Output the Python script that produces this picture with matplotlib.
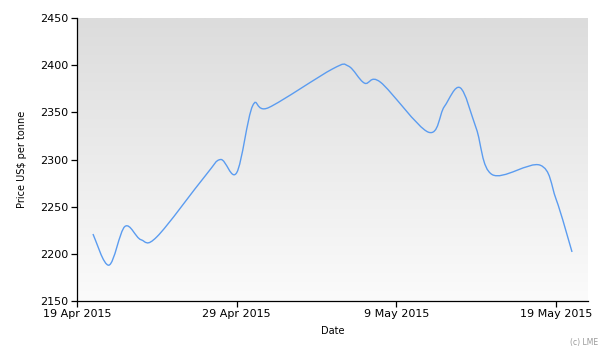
import numpy as np
import pandas as pd
import matplotlib
matplotlib.use('Agg')
import matplotlib.pyplot as plt
import matplotlib.dates as mdates
from matplotlib.path import Path
from matplotlib.patches import PathPatch
from matplotlib.colors import LinearSegmentedColormap

# LME daily prices (US$ per tonne), trading days only
dates = ['2015-04-20', '2015-04-21', '2015-04-22', '2015-04-23', '2015-04-24',
         '2015-04-27', '2015-04-28', '2015-04-29', '2015-04-30', '2015-05-01',
         '2015-05-05', '2015-05-06', '2015-05-07', '2015-05-08', '2015-05-11',
         '2015-05-12', '2015-05-13', '2015-05-14', '2015-05-15', '2015-05-18',
         '2015-05-19', '2015-05-20']
prices = [2221, 2188, 2229, 2215, 2218,
          2282, 2300, 2286, 2357, 2355,
          2396, 2399, 2381, 2382, 2329,
          2356, 2376, 2333, 2284, 2294,
          2258, 2202]
tick_dates = ['2015-04-19', '2015-04-29', '2015-05-09', '2015-05-19']
x_range = ['2015-04-19', '2015-05-21']
y_ticks = [2150, 2200, 2250, 2300, 2350, 2400, 2450]

TENSION = 0.5


def spline_path(x, y, tension):
    """Cardinal spline through the points as cubic Bezier segments"""
    pts = np.column_stack([x, y])
    n = len(pts)
    verts = [pts[0]]
    codes = [Path.MOVETO]
    for i in range(n - 1):
        p_prev = pts[i - 1] if i > 0 else pts[i]
        p_next2 = pts[i + 2] if i + 2 < n else pts[i + 1]
        c1 = pts[i] + tension / 3 * (pts[i + 1] - p_prev)
        c2 = pts[i + 1] - tension / 3 * (p_next2 - pts[i])
        verts += [c1, c2, pts[i + 1]]
        codes += [Path.CURVE4] * 3
    return Path(verts, codes)


x = mdates.date2num(pd.to_datetime(dates))
y = np.array(prices, dtype=float)

fig = plt.figure(figsize=(6.12, 3.54), dpi=100)
ax = fig.add_axes([77 / 612, 1 - 301 / 354, (588 - 77) / 612, (301 - 18) / 354])

# gray to white gradient background
cmap = LinearSegmentedColormap.from_list('bg', ['#fbfbfb', '#dcdcdc'])
grad = np.linspace(0, 1, 256).reshape(-1, 1)
ax.imshow(grad, extent=[0, 1, 0, 1], transform=ax.transAxes, aspect='auto',
          cmap=cmap, origin='lower', zorder=0)

ax.add_patch(PathPatch(spline_path(x, y, TENSION), facecolor='none',
                       edgecolor='#5b9cf0', lw=1.0, zorder=2))

ax.set_xlim(mdates.date2num(pd.to_datetime(x_range)))
ax.set_ylim(y_ticks[0], y_ticks[-1])
ax.set_yticks(y_ticks)
ax.set_xticks(mdates.date2num(pd.to_datetime(tick_dates)))
ax.xaxis.set_major_formatter(mdates.DateFormatter('%-d %b %Y'))

for s in ['top', 'right']:
    ax.spines[s].set_visible(False)
for s in ['left', 'bottom']:
    ax.spines[s].set_color('black')
    ax.spines[s].set_linewidth(0.9)
ax.tick_params(direction='out', length=4, width=0.9, labelsize=8, colors='black', pad=2)

ax.set_xlabel('Date', fontsize=7, labelpad=5)
ax.set_ylabel('Price US$ per tonne', fontsize=7, labelpad=10)
fig.text(598 / 612, 1 - 343 / 354, '(c) LME', fontsize=5.5, color='#999999',
         ha='right', va='center')

fig.savefig('out.png', dpi=100, facecolor='white')
